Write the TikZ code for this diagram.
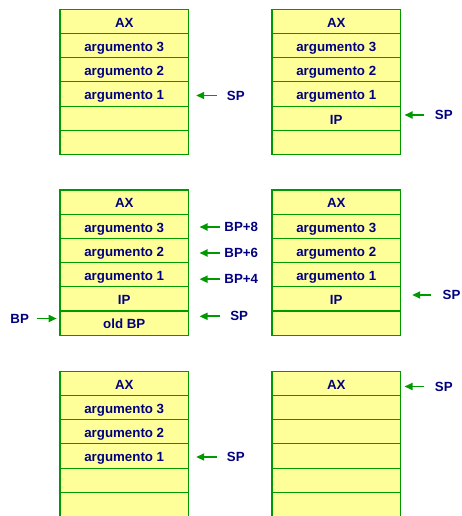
\documentclass[tikz,border=0pt]{standalone}
\usepackage{fontspec}
\setmainfont{Liberation Sans}
\usetikzlibrary{arrows.meta,positioning}

\definecolor{amarillo}{RGB}{255,255,153}
\definecolor{verde}{RGB}{0,153,0}
\definecolor{azul}{RGB}{0,0,128}

\begin{document}
\begin{tikzpicture}[
            x=1pt, y=-1pt,
            celda/.style = {rectangle, draw=verde, line width=1.1pt, fill=amarillo, minimum width=128.5pt, minimum height=24.2pt, inner sep=0pt, outer sep=0pt, text height=11.7pt, text depth=0pt, font=\fontsize{13.3}{16}\selectfont\bfseries, text=azul},
            etiqueta/.style = {inner sep=0pt, font=\fontsize{13.3}{16}\selectfont\bfseries, text=azul},
            flecha/.style = {-{Triangle[length=8pt, width=7pt]}, line width=1.7pt, verde}
        ]
        \useasboundingbox (0,0) rectangle (461,516);
        \clip (0,0) rectangle (461,516);

        % Pila antes del CALL
        \foreach \t [count=\i] in {AX, argumento 3, argumento 2, argumento 1, {}, {}}
            \node [celda, anchor=north west] (a\i) at (60, {9.3+(\i-1)*24.2}) {\t};
        % Pila despues del CALL
        \foreach \t [count=\i] in {AX, argumento 3, argumento 2, argumento 1, IP, {}}
            \node [celda, anchor=north west] (b\i) at (272, {9.3+(\i-1)*24.2}) {\t};
        % Pila con el marco de BP
        \foreach \t [count=\i] in {AX, argumento 3, argumento 2, argumento 1, IP, old BP}
            \node [celda, anchor=north west] (c\i) at (60, {190+(\i-1)*24.2}) {\t};
        % Pila despues de POP BP
        \foreach \t [count=\i] in {AX, argumento 3, argumento 2, argumento 1, IP, {}}
            \node [celda, anchor=north west] (d\i) at (272, {190+(\i-1)*24.2}) {\t};
        % Pila despues del RET
        \foreach \t [count=\i] in {AX, argumento 3, argumento 2, argumento 1, {}, {}}
            \node [celda, anchor=north west] (e\i) at (60, {371.3+(\i-1)*24.2}) {\t};
        % Pila despues de limpiar argumentos
        \foreach \t [count=\i] in {AX, {}, {}, {}, {}, {}}
            \node [celda, anchor=north west] (f\i) at (272, {371.3+(\i-1)*24.2}) {\t};

        % Etiquetas de punteros
        \node [etiqueta] (sp1) at (235.8, 95.5) {SP};
        \node [etiqueta] (sp2) at (443.8, 115) {SP};
        \node [etiqueta] (bp8) at (241.3, 227) {BP+8};
        \node [etiqueta] (bp6) at (241.3, 253) {BP+6};
        \node [etiqueta] (bp4) at (241.3, 279.2) {BP+4};
        \node [etiqueta] (sp3) at (239.2, 316.3) {SP};
        \node [etiqueta] (bp) at (19.7, 318.5) {BP};
        \node [etiqueta] (sp4) at (451.5, 295) {SP};
        \node [etiqueta] (sp5) at (235.8, 457) {SP};
        \node [etiqueta] (sp6) at (443.8, 386.5) {SP};

        % Flechas hacia la pila
        \draw [flecha] ([xshift=-10.2pt]sp1.west) -- ([xshift=7.7pt]sp1.west -| a4.east);
        \draw [flecha] ([xshift=-11pt]sp2.west) -- ([xshift=4pt]sp2.west -| b5.east);
        \draw [flecha] ([xshift=-4.3pt]bp8.west) -- ([xshift=11pt]bp8.west -| c2.east);
        \draw [flecha] ([xshift=-4.3pt]bp6.west) -- ([xshift=11pt]bp6.west -| c3.east);
        \draw [flecha] ([xshift=-4.3pt]bp4.west) -- ([xshift=11pt]bp4.west -| c4.east);
        \draw [flecha] ([xshift=-10.3pt]sp3.west) -- ([xshift=11pt]sp3.west -| c6.east);
        \draw [flecha] ([xshift=7.4pt]bp.east) -- ([xshift=-3.3pt]bp.east -| c6.west);
        \draw [flecha] ([xshift=-11pt]sp4.west) -- ([xshift=11.7pt]sp4.west -| d5.east);
        \draw [flecha] ([xshift=-10.2pt]sp5.west) -- ([xshift=7.7pt]sp5.west -| e4.east);
        \draw [flecha] ([xshift=-11pt]sp6.west) -- ([xshift=4pt]sp6.west -| f1.east);

    \end{tikzpicture}
\end{document}
